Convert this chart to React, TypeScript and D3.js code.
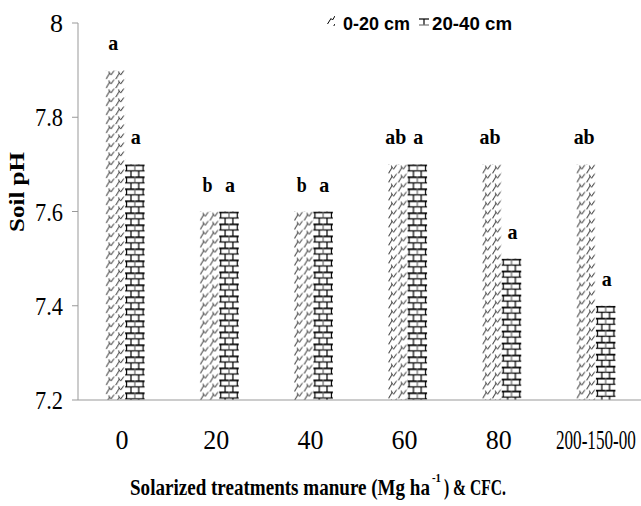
import React from 'react';
import * as d3 from 'd3';

const categories = ['0', '20', '40', '60', '80', '200-150-00'];
const seriesNames = ['0-20 cm', '20-40 cm'];
const depth0to20 = [7.9, 7.6, 7.6, 7.7, 7.7, 7.7];
const depth20to40 = [7.7, 7.6, 7.6, 7.7, 7.5, 7.4];
const letters0to20 = ['a', 'b', 'b', 'ab', 'ab', 'ab'];
const letters20to40 = ['a', 'a', 'a', 'a', 'a', 'a'];
const yTicks = [7.2, 7.4, 7.6, 7.8, 8];

const W = 641;
const H = 506;
const SERIF = "'Liberation Serif', 'Times New Roman', 'DejaVu Serif', serif";
const SANS = "'Liberation Sans', Arial, sans-serif";

const App = () => {
  const x = d3.scaleBand<string>().domain(categories).range([78, 643]);
  const y = d3.scaleLinear().domain([7.2, 8]).range([400, 23]);
  const barW = 19.5;
  const series = [depth0to20, depth20to40];
  const lettersBy = [letters0to20, letters20to40];

  const bars: any[] = [];
  series.forEach((vals, s) => {
    vals.forEach((v, i) => {
      const cx = (x(categories[i]) as number) + x.bandwidth() / 2;
      const bx = s === 0 ? cx - barW : cx;
      bars.push({ s, i, v, bx, top: y(v), letter: lettersBy[s][i] });
    });
  });

  return (
    <svg width={W} height={H} style={{ position: 'absolute', left: 0, top: 0, background: '#fff' }}>
      <defs>
        {bars.map((b) =>
          b.s === 0 ? (
            <pattern key={'p' + b.s + b.i} id={`pat-${b.s}-${b.i}`} patternUnits="userSpaceOnUse"
              x={b.bx} y={b.top} width={barW / 2} height={9}>
              <path d="M0.5,9 L4,3.2 L5.5,4.8 L8.5,0.5 M4,3.2 L3.3,1.4" stroke="#000" strokeWidth={0.9} fill="none" />
            </pattern>
          ) : (
            <pattern key={'p' + b.s + b.i} id={`pat-${b.s}-${b.i}`} patternUnits="userSpaceOnUse"
              x={b.bx} y={b.top} width={barW} height={12}>
              <line x1={0} x2={barW} y1={0.8} y2={0.8} stroke="#000" strokeWidth={1.8} />
              <line x1={0} x2={barW} y1={6.5} y2={6.5} stroke="#000" strokeWidth={1.2} />
              <line x1={1.5} x2={1.5} y1={0} y2={6.5} stroke="#000" strokeWidth={1.2} />
              <line x1={barW / 2} x2={barW / 2} y1={0} y2={6.5} stroke="#666" strokeWidth={1.2} />
              <line x1={barW - 1.5} x2={barW - 1.5} y1={0} y2={6.5} stroke="#000" strokeWidth={1.2} />
              <line x1={barW / 4 + 1} x2={barW / 4 + 1} y1={6.5} y2={12} stroke="#000" strokeWidth={1.2} />
              <line x1={(3 * barW) / 4 - 1} x2={(3 * barW) / 4 - 1} y1={6.5} y2={12} stroke="#000" strokeWidth={1.2} />
            </pattern>
          )
        )}
        <pattern id="leg-0" patternUnits="userSpaceOnUse" x={327} y={16} width={8} height={8}>
          <path d="M0.5,8 L4,2.5 L5.5,4 L8,0" stroke="#000" strokeWidth={1} fill="none" />
        </pattern>
      </defs>

      {/* y axis */}
      <line x1={78} x2={78} y1={y(8)} y2={y(7.2)} stroke="#999" strokeWidth={1} />
      {yTicks.map((t) => (
        <g key={t}>
          <line x1={72} x2={78} y1={y(t)} y2={y(t)} stroke="#999" strokeWidth={1} />
          <text x={63} y={y(t)} dy="0.35em" textAnchor="end" fontFamily={SERIF} fontWeight="normal"
            fontSize={26} textLength={t === 8 ? 13 : 28} lengthAdjust="spacingAndGlyphs">
            {d3.format('')(t)}
          </text>
        </g>
      ))}

      {/* bars */}
      {bars.map((b) => (
        <rect key={'b' + b.s + b.i} x={b.bx} y={b.top} width={barW} height={y(7.2) - b.top}
          fill={`url(#pat-${b.s}-${b.i})`} />
      ))}
      {bars.map((b) => (
        <text key={'l' + b.s + b.i} x={b.bx + barW / 2 + (b.s === 0 ? -2 : 1)} y={b.top - 20}
          textAnchor="middle" fontFamily={SERIF} fontWeight="bold"
          fontSize={22} textLength={b.letter.length === 2 ? 21 : 10} lengthAdjust="spacingAndGlyphs">
          {b.letter}
        </text>
      ))}

      {/* x axis */}
      <line x1={78} x2={641} y1={y(7.2)} y2={y(7.2)} stroke="#999" strokeWidth={1.2} />
      {categories.map((c) => (
        <text key={c} x={(x(c) as number) + x.bandwidth() / 2 + (c.length > 3 ? 0 : -3)} y={449}
          textAnchor="middle" fontFamily={SERIF} fontWeight="normal" fontSize={27}
          textLength={c.length > 3 ? 80 : c.length * 13} lengthAdjust="spacingAndGlyphs">
          {c}
        </text>
      ))}

      {/* axis titles */}
      <text transform={`translate(24,192) rotate(-90)`} textAnchor="middle"
        fontFamily={SERIF} fontWeight="bold" fontSize={22}
        textLength={80} lengthAdjust="spacingAndGlyphs">
        Soil pH
      </text>
      <g fontFamily={SERIF} fontWeight="bold">
        <text x={130} y={495} fontSize={24} textLength={300} lengthAdjust="spacingAndGlyphs">
          Solarized treatments manure (Mg ha
        </text>
        <text x={432} y={482} fontSize={13} textLength={9} lengthAdjust="spacingAndGlyphs">-1</text>
        <text x={444} y={495} fontSize={24} textLength={62} lengthAdjust="spacingAndGlyphs">
          ) &amp; CFC.
        </text>
      </g>

      {/* legend */}
      <rect x={327} y={16} width={8} height={10} fill="url(#leg-0)" />
      <text x={343} y={30} fontFamily={SANS} fontWeight="bold" fontSize={19}
        textLength={67} lengthAdjust="spacingAndGlyphs">
        {seriesNames[0]}
      </text>
      <g stroke="#000" strokeWidth={1.2}>
        <line x1={419} x2={429} y1={19} y2={19} />
        <line x1={424} x2={424} y1={19} y2={25} />
        <line x1={419} x2={429} y1={25} y2={25} stroke="#777" />
      </g>
      <text x={432} y={30} fontFamily={SANS} fontWeight="bold" fontSize={19}
        textLength={80} lengthAdjust="spacingAndGlyphs">
        {seriesNames[1]}
      </text>
    </svg>
  );
};

export default App;
